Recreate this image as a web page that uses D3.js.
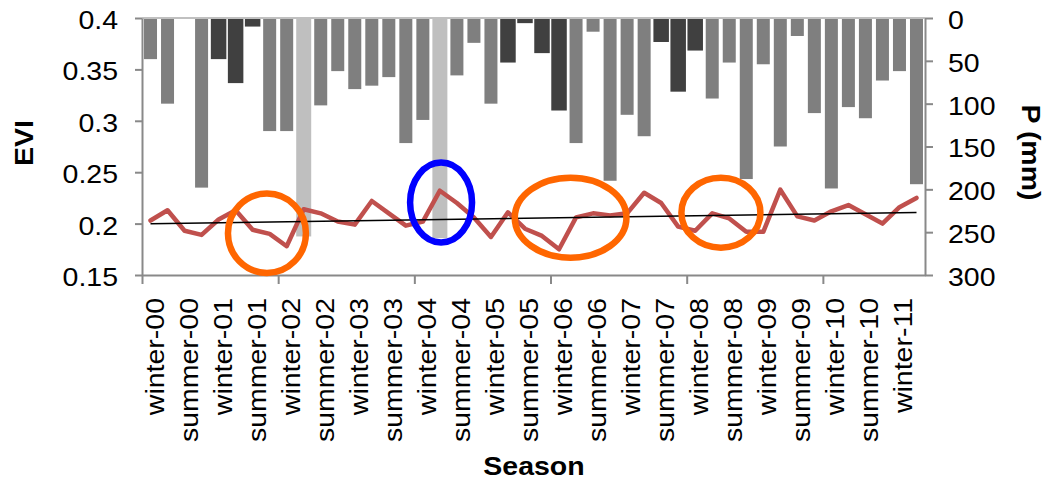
<!DOCTYPE html>
<html>
<head>
<meta charset="utf-8">
<script src="https://cdn.jsdelivr.net/npm/d3@7"></script>
<style>
  body { margin: 0; background: #fff; }
  svg { display: block; }
  text { font-family: "Liberation Sans", Arial, Helvetica, sans-serif; fill: #000; }
</style>
</head>
<body>
<svg id="chart" width="1045" height="480"></svg>
<script>
// Season labels (one label every two periods)
const seasonLabels = [
  "winter-00", "summer-00", "winter-01", "summer-01", "winter-02", "summer-02",
  "winter-03", "summer-03", "winter-04", "summer-04", "winter-05", "summer-05",
  "winter-06", "summer-06", "winter-07", "summer-07", "winter-08", "summer-08",
  "winter-09", "summer-09", "winter-10", "summer-10", "winter-11"
];

// Mean EVI per period
const evi = [
  0.203, 0.213, 0.193, 0.189, 0.204, 0.213, 0.194, 0.190, 0.178, 0.214,
  0.210, 0.202, 0.199, 0.222, 0.210, 0.198, 0.202, 0.232, 0.220, 0.206,
  0.187, 0.211, 0.195, 0.188, 0.175, 0.206, 0.210, 0.208, 0.210, 0.230,
  0.220, 0.197, 0.193, 0.210, 0.205, 0.192, 0.192, 0.233, 0.207, 0.203,
  0.212, 0.218, 0.209, 0.200, 0.216, 0.225
];

// Precipitation per period (mm)
const precip = [
  48, 100, 0, 198, 48, 76, 10, 132, 132, 255,
  102, 62, 83, 79, 69, 146, 119, 257, 67, 29,
  100, 52, 6, 41, 108, 146, 16, 190, 113, 138,
  28, 86, 38, 94, 52, 188, 54, 150, 21, 111,
  199, 104, 117, 73, 62, 194
];

// Precipitation group per period: 0 = regular, 1 = dry spell, 2 = extreme event
const precipGroup = [
  0, 0, 0, 0, 1, 1, 1, 0, 0, 2,
  0, 0, 0, 0, 0, 0, 0, 2, 0, 0,
  0, 1, 1, 1, 1, 0, 0, 0, 0, 0,
  1, 1, 1, 0, 0, 0, 0, 0, 0, 0,
  0, 0, 0, 0, 0, 0
];

const eviTicks = [0.15, 0.2, 0.25, 0.3, 0.35, 0.4];
const precipTicks = [0, 50, 100, 150, 200, 250, 300];

// Highlighted episodes: centre (period index, EVI), half-extent (periods, EVI), type
const highlights = [
  { period: 6.84,  value: 0.1906, spanP: 2.29, spanV: 0.0386, type: "low" },
  { period: 17.07, value: 0.2205, spanP: 1.82, spanV: 0.0389, type: "high" },
  { period: 24.68, value: 0.2057, spanP: 3.28, spanV: 0.0389, type: "low" },
  { period: 33.51, value: 0.2106, spanP: 2.32, spanV: 0.0340, type: "low" }
];

const svg = d3.select("#chart");
const box = { left: 142, right: 925, top: 18, bottom: 275 };
const n = evi.length;
const FONT = 25, STRETCH = 1.14;

const x = d3.scaleBand().domain(d3.range(n)).range([box.left, box.right]).padding(0);
const xPos = d3.scaleLinear().domain([0, n]).range([box.left, box.right]);
const yEvi = d3.scaleLinear().domain([0.15, 0.4]).range([box.bottom, box.top]);
const yP = d3.scaleLinear().domain([0, 300]).range([box.top, box.bottom]);

const barFill = ["#7f7f7f", "#404040", "#bfbfbf"];
const barWidth = [13, 15.5, 15];
const axisColor = "#898989";

// Precipitation bars hanging from the top
svg.append("g").selectAll("rect")
  .data(precip.map((v, i) => ({ v, i, g: precipGroup[i] })).filter(d => d.v > 0))
  .join("rect")
  .attr("x", d => x(d.i) + x.bandwidth() / 2 - barWidth[d.g] / 2)
  .attr("width", d => barWidth[d.g])
  .attr("y", yP(0))
  .attr("height", d => yP(d.v) - yP(0))
  .attr("fill", d => barFill[d.g]);

// Zero line of the precipitation axis
svg.append("line")
  .attr("x1", box.left).attr("x2", box.right)
  .attr("y1", yP(0)).attr("y2", yP(0))
  .attr("stroke", "#c0c0c0").attr("stroke-width", 2);

function styleAxis(g) {
  g.selectAll("path, line").attr("stroke", axisColor).attr("stroke-width", 2);
  g.selectAll("text").attr("font-size", FONT).attr("fill", "#000").attr("dy", null).attr("x", null).attr("y", null);
}

// Left EVI axis
const gL = svg.append("g").attr("transform", `translate(${box.left},0)`)
  .call(d3.axisLeft(yEvi).tickValues(eviTicks).tickSize(7).tickSizeOuter(0)
    .tickFormat(d => String(+d.toFixed(2))));
styleAxis(gL);
gL.selectAll("text").attr("text-anchor", "end")
  .attr("transform", `translate(-24,10.4) scale(${STRETCH},1)`);

// Right precipitation axis
const gR = svg.append("g").attr("transform", `translate(${box.right},0)`)
  .call(d3.axisRight(yP).tickValues(precipTicks).tickSize(8).tickSizeOuter(0));
styleAxis(gR);
gR.selectAll("text").attr("text-anchor", "start")
  .attr("transform", `translate(23,10.4) scale(${STRETCH},1)`);

// Bottom axis: tick marks every eight periods
const gB = svg.append("g").attr("transform", `translate(0,${box.bottom})`)
  .call(d3.axisBottom(xPos).tickValues(d3.range(0, n, 8)).tickSize(9).tickSizeOuter(0).tickFormat(""));
styleAxis(gB);

// Bottom axis labels every two periods
const gBL = svg.append("g").attr("transform", `translate(0,${box.bottom})`)
  .call(d3.axisBottom(x).tickValues(d3.range(0, n, 2)).tickSize(0)
    .tickFormat(i => seasonLabels[i / 2]));
gBL.select(".domain").remove();
gBL.selectAll("text").attr("font-size", FONT).attr("fill", "#000")
  .attr("dy", null).attr("x", null).attr("y", null)
  .attr("text-anchor", "end")
  .attr("transform", `translate(13,23) rotate(-90) scale(${STRETCH},1)`);

// EVI line
svg.append("path")
  .datum(evi)
  .attr("d", d3.line().x((d, i) => x(i) + x.bandwidth() / 2).y(d => yEvi(d)))
  .attr("fill", "none")
  .attr("stroke", "#c0504d")
  .attr("stroke-width", 4.5)
  .attr("stroke-linejoin", "round")
  .attr("stroke-linecap", "round");

// Linear trend of EVI (least squares)
const idx = d3.range(n);
const mx = d3.mean(idx), my = d3.mean(evi);
const slope = d3.sum(idx, i => (i - mx) * (evi[i] - my)) / d3.sum(idx, i => (i - mx) ** 2);
const icpt = my - slope * mx;
svg.append("line")
  .attr("x1", x(0) + x.bandwidth() / 2).attr("y1", yEvi(icpt))
  .attr("x2", x(n - 1) + x.bandwidth() / 2).attr("y2", yEvi(icpt + slope * (n - 1)))
  .attr("stroke", "#000").attr("stroke-width", 1.6);

// Highlighted episodes
const ringColor = { low: "#ff6600", high: "#0000ff" };
svg.append("g").selectAll("ellipse")
  .data(highlights)
  .join("ellipse")
  .attr("cx", d => xPos(d.period + 0.5))
  .attr("cy", d => yEvi(d.value))
  .attr("rx", d => xPos(d.spanP) - xPos(0))
  .attr("ry", d => yEvi(0.2) - yEvi(0.2 + d.spanV))
  .attr("fill", "none")
  .attr("stroke", d => ringColor[d.type])
  .attr("stroke-width", 6.5);

// Axis titles
svg.append("text").text("EVI")
  .attr("font-size", FONT).attr("font-weight", "bold").attr("text-anchor", "middle")
  .attr("transform", `translate(33,143) rotate(-90) scale(${STRETCH},1)`);
svg.append("text").text("P (mm)")
  .attr("font-size", FONT).attr("font-weight", "bold").attr("text-anchor", "middle")
  .attr("transform", `translate(1022,152.5) rotate(90) scale(${STRETCH},1)`);
svg.append("text").text("Season")
  .attr("font-size", FONT).attr("font-weight", "bold").attr("text-anchor", "middle")
  .attr("transform", `translate(534,475) scale(${STRETCH},1)`);
</script>
</body>
</html>
